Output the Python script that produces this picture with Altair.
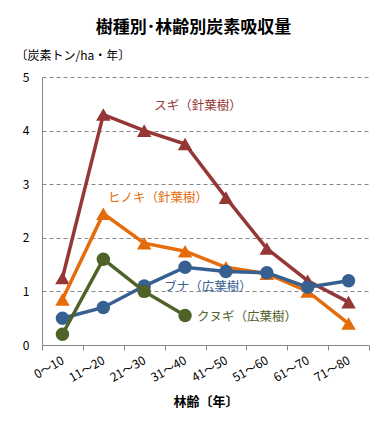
import altair as alt
import pandas as pd

categories = ["0～10", "11～20", "21～30", "31～40", "41～50", "51～60", "61～70", "71～80"]
sugi = [1.25, 4.3, 4.0, 3.75, 2.75, 1.8, 1.2, 0.8]
hinoki = [0.85, 2.45, 1.9, 1.75, 1.45, 1.33, 1.0, 0.4]
buna = [0.5, 0.7, 1.1, 1.45, 1.37, 1.35, 1.08, 1.2]
kunugi = [0.2, 1.6, 1.0, 0.55]

series = [
    ("スギ（針葉樹）", sugi, "#953735", "triangle-up", 210, (156, 29)),
    ("ヒノキ（針葉樹）", hinoki, "#E46C0A", "triangle-up", 210, (116, 121)),
    ("ブナ（広葉樹）", buna, "#376092", "circle", 180, (166, 210)),
    ("クヌギ（広葉樹）", kunugi, "#4F6228", "circle", 180, (205, 240)),
]

FONT = "Noto Sans CJK JP"

xenc = alt.X(
    "cat:O",
    sort=categories,
    scale=alt.Scale(type="band", domain=categories, paddingInner=0, paddingOuter=0),
    axis=alt.Axis(
        title="林齢〔年〕",
        titleFont=FONT, titleFontSize=13, titleFontWeight="bold", titleColor="#000",
        titleY=60, titleBaseline="alphabetic",
        labelAngle=-30, labelAlign="right", labelBaseline="middle",
        labelFont=FONT, labelFontSize=12, labelColor="#000", labelPadding=9,
        tickBand="extent", tickSize=5, tickColor="#868686",
        domainColor="#868686", grid=False,
    ),
)
yenc = alt.Y(
    "val:Q",
    scale=alt.Scale(domain=[0, 5], nice=False),
    axis=alt.Axis(
        values=[0, 1, 2, 3, 4, 5],
        title="〔炭素トン/ha・年〕",
        titleFont=FONT, titleFontSize=12, titleFontWeight="normal", titleColor="#000",
        titleAngle=0, titleX=-27, titleY=-18, titleAlign="left", titleBaseline="alphabetic",
        labelFont=FONT, labelFontSize=12, labelColor="#000", labelPadding=13,
        ticks=False, domainColor="#868686",
        grid=True, gridDash=[4, 3], gridColor="#868686", gridWidth=1,
    ),
)

layers = []
for name, vals, color, shape, size, (lx, ly) in series:
    df = pd.DataFrame({"cat": categories[: len(vals)], "val": vals, "name": name})
    line = alt.Chart(df).mark_line(
        color=color, strokeWidth=3.5,
        point=alt.OverlayMarkDef(shape=shape, size=size, filled=True, color=color, opacity=1),
    ).encode(x=xenc, y=yenc)
    layers.append(line)

for name, vals, color, shape, size, (lx, ly) in series:
    lab = alt.Chart(pd.DataFrame({"t": [name]})).mark_text(
        font=FONT, fontSize=12.5, color=color, align="center", baseline="middle"
    ).encode(text="t:N", x=alt.value(lx), y=alt.value(ly))
    layers.append(lab)

chart = alt.layer(*layers).properties(
    width=327, height=268,
    title=alt.TitleParams(
        "樹種別･林齢別炭素吸収量", font=FONT, fontSize=17, fontWeight="bold",
        color="#000", anchor="middle", dx=-12, offset=12,
    ),
    autosize=alt.AutoSizeParams(type="none"),
    padding={"left": 34, "top": 69, "right": 8, "bottom": 70},
).configure_view(stroke=None)

chart.save("out.html", embed_options={"renderer": "svg", "actions": False})
